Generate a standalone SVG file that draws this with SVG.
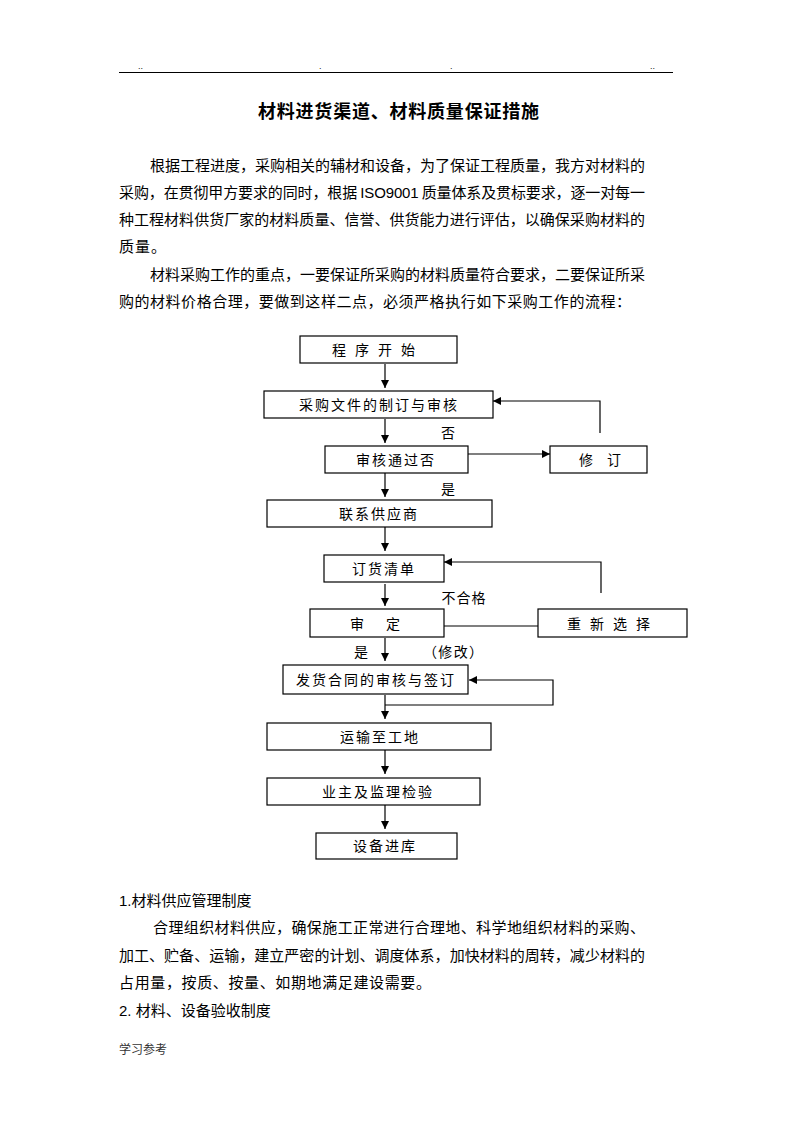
<svg xmlns="http://www.w3.org/2000/svg" width="793" height="1122" viewBox="0 0 793 1122">
<defs>
<style>
.t{font-family:"Noto Sans CJK SC","Liberation Serif",serif;fill:#000}
.p{font-size:15px}
.f{font-size:14px;text-anchor:middle}
.b{fill:#fff;stroke:#000;stroke-width:1.2}
.c{fill:none;stroke:#000;stroke-width:1.2}
.d{font-family:"Liberation Sans",sans-serif;font-size:9px;fill:#222}
</style>
<marker id="ah" markerUnits="userSpaceOnUse" markerWidth="9" markerHeight="9" refX="8" refY="4" orient="auto">
<path d="M0,0 L8,4 L0,8 z" fill="#000"/>
</marker>
</defs>
<rect width="793" height="1122" fill="#fff"/>
<g id="header">
<line x1="119" y1="72.5" x2="673" y2="72.5" stroke="#000" stroke-width="1.2"/>
<text class="d" x="138" y="69">..</text>
<text class="d" x="319" y="69">.</text>
<text class="d" x="450" y="69">.</text>
<text class="d" x="650" y="69">..</text>
</g>
<text class="t" x="258" y="118" font-size="18" font-weight="bold" textLength="281" lengthAdjust="spacing">材料进货渠道、材料质量保证措施</text>
<g id="intro">
<text class="t p" x="150" y="171" textLength="495" lengthAdjust="spacing">根据工程进度，采购相关的辅材和设备，为了保证工程质量，我方对材料的</text>
<text class="t p" x="119" y="198" textLength="526" lengthAdjust="spacing">采购，在贯彻甲方要求的同时，根据 <tspan font-family="Liberation Sans,sans-serif">ISO9001</tspan> 质量体系及贯标要求，逐一对每一</text>
<text class="t p" x="119" y="225" textLength="526" lengthAdjust="spacing">种工程材料供货厂家的材料质量、信誉、供货能力进行评估，以确保采购材料的</text>
<text class="t p" x="119" y="252" textLength="47" lengthAdjust="spacing">质量。</text>
<text class="t p" x="150" y="280" textLength="495" lengthAdjust="spacing">材料采购工作的重点，一要保证所采购的材料质量符合要求，二要保证所采</text>
<text class="t p" x="119" y="307" textLength="512" lengthAdjust="spacing">购的材料价格合理，要做到这样二点，必须严格执行如下采购工作的流程：</text>
</g>
<g id="connectors">
<line class="c" x1="385" y1="364" x2="385" y2="388" marker-end="url(#ah)"/>
<line class="c" x1="385" y1="419" x2="385" y2="443" marker-end="url(#ah)"/>
<line class="c" x1="468" y1="454" x2="550" y2="454" marker-end="url(#ah)"/>
<polyline class="c" points="600,433 600,401 493,401" marker-end="url(#ah)"/>
<line class="c" x1="385" y1="473" x2="385" y2="497" marker-end="url(#ah)"/>
<line class="c" x1="385" y1="527" x2="385" y2="551" marker-end="url(#ah)"/>
<line class="c" x1="385" y1="584" x2="385" y2="606" marker-end="url(#ah)"/>
<line class="c" x1="444" y1="626" x2="538" y2="626"/>
<polyline class="c" points="601,593 601,562 444,562" marker-end="url(#ah)"/>
<line class="c" x1="385" y1="638" x2="385" y2="661" marker-end="url(#ah)"/>
<line class="c" x1="385" y1="695" x2="385" y2="719" marker-end="url(#ah)"/>
<polyline class="c" points="385,705 553,705 553,680 469,680" marker-end="url(#ah)"/>
<line class="c" x1="385" y1="750" x2="385" y2="774" marker-end="url(#ah)"/>
<line class="c" x1="385" y1="805" x2="385" y2="829" marker-end="url(#ah)"/>
</g>
<g id="labels">
<text class="t f" x="448" y="438">否</text>
<text class="t f" x="448" y="494">是</text>
<text class="t f" x="464" y="603" letter-spacing="1">不合格</text>
<text class="t f" x="361" y="657">是</text>
<text class="t f" x="453" y="657" textLength="60" lengthAdjust="spacing">（修改）</text>
</g>
<g id="n1"><rect class="b" x="300" y="336" width="157" height="27"/><text class="t f" x="378" y="355" letter-spacing="9">程序开始</text></g>
<g id="n2"><rect class="b" x="264" y="391" width="229" height="27"/><text class="t f" x="379" y="410" letter-spacing="2">采购文件的制订与审核</text></g>
<g id="n3"><rect class="b" x="325" y="446" width="143" height="27"/><text class="t f" x="396" y="465" letter-spacing="2">审核通过否</text></g>
<g id="n4"><rect class="b" x="550" y="446" width="97" height="27"/><text class="t f" x="600" y="465">修　订</text></g>
<g id="n5"><rect class="b" x="267" y="500" width="225" height="27"/><text class="t f" x="379" y="519" letter-spacing="2">联系供应商</text></g>
<g id="n6"><rect class="b" x="324" y="555" width="120" height="27"/><text class="t f" x="384" y="574" letter-spacing="2">订货清单</text></g>
<g id="n7"><rect class="b" x="310" y="609" width="134" height="28"/><text class="t f" x="377" y="629" letter-spacing="4">审　定</text></g>
<g id="n8"><rect class="b" x="538" y="609" width="149" height="28"/><text class="t f" x="613" y="629" letter-spacing="9">重新选择</text></g>
<g id="n9"><rect class="b" x="283" y="665" width="185" height="29"/><text class="t f" x="376" y="685" letter-spacing="2">发货合同的审核与签订</text></g>
<g id="n10"><rect class="b" x="267" y="723" width="224" height="27"/><text class="t f" x="380" y="742" letter-spacing="2">运输至工地</text></g>
<g id="n11"><rect class="b" x="267" y="778" width="213" height="27"/><text class="t f" x="378" y="797" letter-spacing="2">业主及监理检验</text></g>
<g id="n12"><rect class="b" x="316" y="833" width="141" height="26"/><text class="t f" x="385" y="851" letter-spacing="2">设备进库</text></g>
<g id="body2">
<text class="t p" x="119" y="906"><tspan font-family="Liberation Sans,sans-serif">1.</tspan>材料供应管理制度</text>
<text class="t p" x="153" y="933" textLength="492" lengthAdjust="spacing">合理组织材料供应，确保施工正常进行合理地、科学地组织材料的采购、</text>
<text class="t p" x="119" y="961" textLength="526" lengthAdjust="spacing">加工、贮备、运输，建立严密的计划、调度体系，加快材料的周转，减少材料的</text>
<text class="t p" x="119" y="988" textLength="312" lengthAdjust="spacing">占用量，按质、按量、如期地满足建设需要。</text>
<text class="t p" x="119" y="1016"><tspan font-family="Liberation Sans,sans-serif">2. </tspan> 材料、设备验收制度</text>
</g>
<text x="119" y="1054" font-family="Noto Sans CJK SC,sans-serif" font-size="12" fill="#333">学习参考</text>
</svg>
